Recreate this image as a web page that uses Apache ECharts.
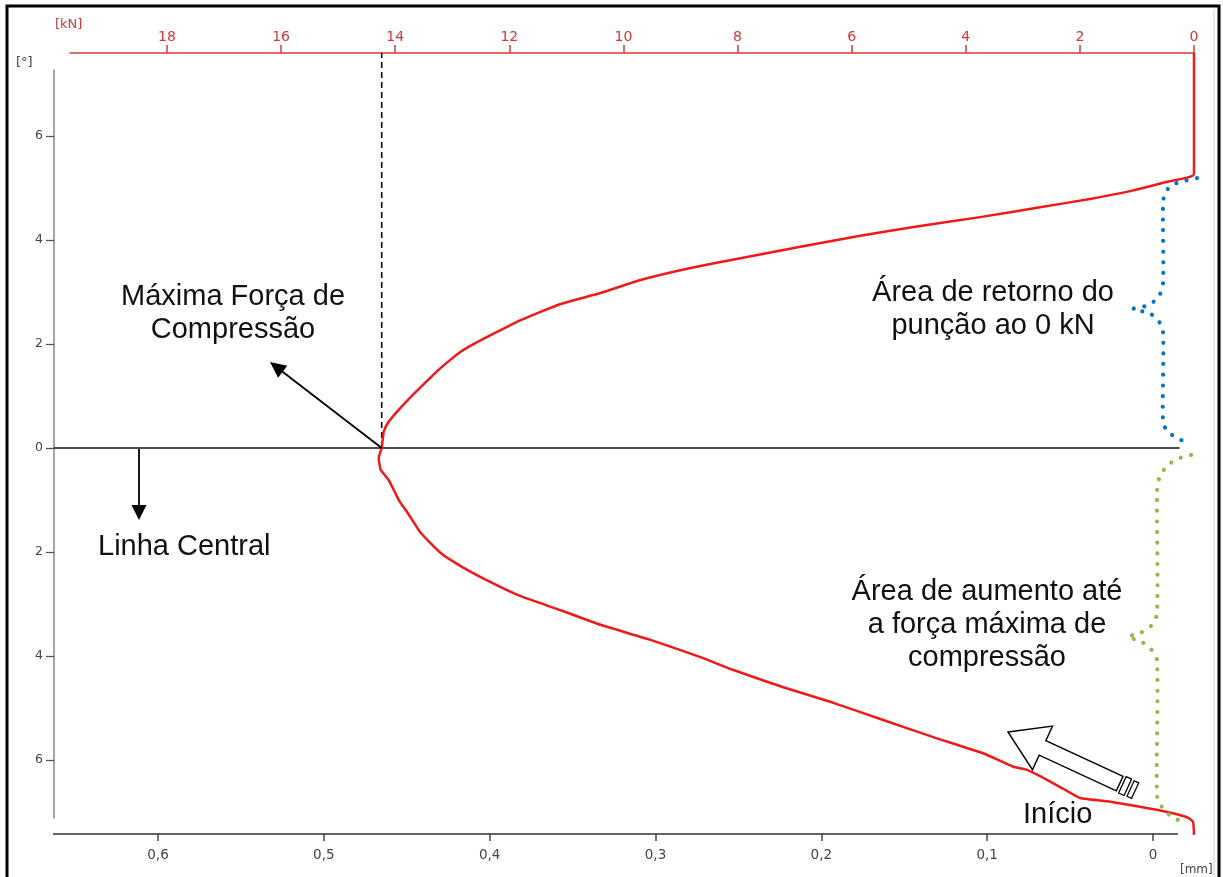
<!DOCTYPE html>
<html>
<head>
<meta charset="utf-8">
<script src="https://cdn.jsdelivr.net/npm/echarts@6/dist/echarts.min.js"></script>
<style>
  html, body { margin: 0; padding: 0; background: #fff; }
  #chart { width: 1223px; height: 877px; }
</style>
</head>
<body>
<div id="chart"></div>
<script>
// Punch displacement [mm] (bottom axis) against tilt angle [°] (left axis),
// from the start of loading (bottom right) through the maximum compression
// force and back to 0 kN (top right).
const curveMm = [-0.0247, -0.0241, -0.0205, -0.0084, 0.0078, 0.0241, 0.0440, 0.0500, 0.0560, 0.0639,
  0.0759, 0.0843, 0.1024, 0.1325, 0.1627, 0.1928, 0.2229, 0.2530, 0.2729, 0.3030,
  0.3331, 0.3572, 0.3813, 0.3994, 0.4175, 0.4295, 0.4416, 0.4494, 0.4548, 0.4608,
  0.4657, 0.4669, 0.4651, 0.4639, 0.4614, 0.4566, 0.4494, 0.4416, 0.4355, 0.4295,
  0.4235, 0.4175, 0.4084, 0.3994, 0.3813, 0.3572, 0.3331, 0.3090, 0.2789, 0.2488,
  0.2127, 0.1765, 0.1404, 0.1042, 0.0681, 0.0380, 0.0139, -0.0084, -0.0247, -0.0247];
const curveDeg = [-7.44, -7.19, -7.10, -7.00, -6.90, -6.81, -6.73, -6.63, -6.52, -6.38,
  -6.19, -6.13, -5.87, -5.56, -5.23, -4.90, -4.60, -4.27, -4.02, -3.69,
  -3.40, -3.12, -2.85, -2.58, -2.27, -2.02, -1.63, -1.25, -1.00, -0.62,
  -0.42, -0.19, 0, 0.31, 0.48, 0.67, 0.92, 1.17, 1.36, 1.54,
  1.70, 1.85, 2.02, 2.17, 2.46, 2.77, 2.98, 3.23, 3.46, 3.65,
  3.87, 4.08, 4.27, 4.44, 4.63, 4.79, 4.94, 5.12, 5.27, 7.60];

// Axis ranges and tick values
const mmRange = [-0.0256, 0.6627];
const mmAxisEnd = -0.015;
const degRange = [-7.115, 7.269];
const knRange = [0, 19.7];
const mmTicks = [0, 0.1, 0.2, 0.3, 0.4, 0.5, 0.6];
const degTicks = [-6, -4, -2, 0, 2, 4, 6];
const knTicks = [0, 2, 4, 6, 8, 10, 12, 14, 16, 18];

// Maximum compression force position and the central (0°) line
const maxForceMm = 0.4651;
const maxForceTopDeg = 7.60;
const centralLineMm = [0.6627, -0.016];

const chart = echarts.init(document.getElementById('chart'), null, { renderer: 'canvas' });

const fmtMm = v => (v === 0 ? '0' : v.toFixed(1).replace('.', ','));
const textFont = '"Liberation Sans", Arial, sans-serif';
const axisFont = '"DejaVu Sans", Verdana, sans-serif';

const curve = curveMm.map((x, i) => [x, curveDeg[i]]);

const GRID_LEFT = 54, GRID_TOP = 70, GRID_H = 748;
const PX_PER_MM = 1658.4;
const gridW = (mmRange[1] - mmRange[0]) * PX_PER_MM;

const option = {
  animation: false,
  backgroundColor: '#ffffff',
  grid: [
    { left: GRID_LEFT, top: GRID_TOP, width: gridW, height: GRID_H },
    { left: 70, top: 53, width: 1124, height: 100 }
  ],
  xAxis: [
    {
      type: 'value', gridIndex: 0, position: 'bottom', inverse: true,
      min: mmRange[0], max: mmRange[1], offset: 16,
      axisLine: { show: false, onZero: false },
      axisTick: { show: true, customValues: mmTicks, length: 7, lineStyle: { color: '#444', width: 1.5 } },
      axisLabel: { customValues: mmTicks, formatter: fmtMm, color: '#444', fontSize: 13.5, fontFamily: axisFont, margin: 14 },
      splitLine: { show: false }
    },
    {
      type: 'value', gridIndex: 1, position: 'top', inverse: true,
      min: knRange[0], max: knRange[1],
      axisLine: { show: true, onZero: false, lineStyle: { color: '#d83a3a', width: 1.5 } },
      axisTick: { show: true, customValues: knTicks, length: 8, lineStyle: { color: '#d83a3a', width: 1.5 } },
      axisLabel: { customValues: knTicks, color: '#d4373a', fontSize: 14, fontFamily: axisFont, margin: 9 },
      splitLine: { show: false }
    }
  ],
  yAxis: [
    {
      type: 'value', gridIndex: 0, min: degRange[0], max: degRange[1],
      axisLine: { show: true, onZero: false, lineStyle: { color: '#888', width: 1.5 } },
      axisTick: { show: true, customValues: degTicks, length: 8, lineStyle: { color: '#555', width: 1.3 } },
      axisLabel: { customValues: degTicks, formatter: v => String(Math.abs(v)), color: '#444', fontSize: 12.5, fontFamily: axisFont, margin: 11 },
      splitLine: { show: false }
    },
    { type: 'value', gridIndex: 1, show: false, min: 0, max: 1 }
  ],
  series: [
    {
      name: 'Linha Central', type: 'line', xAxisIndex: 0, yAxisIndex: 0,
      data: centralLineMm.map(x => [x, 0]), showSymbol: false, silent: true, clip: false,
      lineStyle: { color: '#111', width: 1.6 }
    },
    {
      name: 'Máxima Força de Compressão', type: 'line', xAxisIndex: 0, yAxisIndex: 0,
      data: [[maxForceMm, 0], [maxForceMm, maxForceTopDeg]], showSymbol: false, silent: true, clip: false,
      lineStyle: { color: '#111', width: 1.6, type: [6, 4] }
    },
    {
      name: 'Curva', type: 'line', xAxisIndex: 0, yAxisIndex: 0,
      data: curve, showSymbol: false, clip: false, z: 5, smooth: 0.15,
      lineStyle: { color: '#ee1a1a', width: 2.5, join: 'round' }
    }
  ]
};

chart.setOption(option);

// ---- annotations ----
const maxPt = chart.convertToPixel({ xAxisIndex: 0, yAxisIndex: 0 }, [maxForceMm, 0]);
const axisY = GRID_TOP + GRID_H + 16;
const axisL = chart.convertToPixel({ xAxisIndex: 0, yAxisIndex: 0 }, [mmRange[1], 0])[0] - 1;
const axisR = chart.convertToPixel({ xAxisIndex: 0, yAxisIndex: 0 }, [mmAxisEnd, 0])[0];

function arrowHead(tip, from, len, half) {
  const dx = tip[0] - from[0], dy = tip[1] - from[1];
  const d = Math.hypot(dx, dy), ux = dx / d, uy = dy / d;
  const bx = tip[0] - ux * len, by = tip[1] - uy * len;
  return [tip, [bx - uy * half, by + ux * half], [bx + uy * half, by - ux * half]];
}

// Hollow block arrow near "Início"
const T = [1008, 732], U = [0.908, 0.419], V = [-0.419, 0.908];
const P = (a, b) => [T[0] + a * U[0] + b * V[0], T[1] + a * U[1] + b * V[1]];
const blockArrow = [P(0, 0), P(38, -24), P(38, -8), P(123, -8), P(123, 8), P(38, 8), P(38, 24)];
const tail1 = [P(126, -9), P(132, -9), P(132, 9), P(126, 9)];
const tail2 = [P(135, -8.5), P(140, -8.5), P(140, 8.5), P(135, 8.5)];

const arrow1Tip = [270, 362];
const arrow2From = [139, 449], arrow2Tip = [139, 520];

const blueBrace = [[1197, 178], [1184, 181], [1172, 185], [1165, 193], [1163, 205], [1163, 284], [1159, 296],
  [1149, 305], [1133, 309], [1149, 313], [1158, 320], [1163, 332], [1163, 421], [1167, 431], [1177, 438], [1188, 443]];
const greenBrace = [[1191, 455], [1177, 459], [1166, 467], [1159, 479], [1157, 492], [1157, 614], [1151, 626],
  [1140, 633], [1128, 637], [1140, 641], [1150, 648], [1157, 660], [1157, 795], [1162, 807], [1172, 817], [1186, 823]];

const dotStyle = c => ({ stroke: c, fill: null, lineWidth: 4.2, lineDash: [0.01, 10.6], lineCap: 'round' });
const txt = (x, y, s, align) => ({
  type: 'text', x: x, y: y, silent: true, z: 20,
  style: { text: s, fill: '#111', font: '29px ' + textFont, align: align || 'center', verticalAlign: 'middle', lineHeight: 33 }
});

chart.setOption({
  graphic: [
    // outer frame
    { type: 'rect', silent: true, z: 30, shape: { x: 7, y: 6, width: 1212, height: 890 },
      style: { fill: null, stroke: '#000', lineWidth: 3 } },
    { type: 'line', silent: true, shape: { x1: 1214, y1: 9, x2: 1214, y2: 877 },
      style: { stroke: '#d0d0d0', lineWidth: 1 } },
    // bottom axis line
    { type: 'line', silent: true, z: 3, shape: { x1: axisL, y1: axisY, x2: axisR, y2: axisY },
      style: { stroke: '#333', lineWidth: 1.5 } },
    // unit labels
    { type: 'text', x: 55, y: 25, silent: true,
      style: { text: '[kN]', fill: '#d4373a', font: '13px ' + axisFont, verticalAlign: 'middle' } },
    { type: 'text', x: 16, y: 63, silent: true,
      style: { text: '[°]', fill: '#444', font: '13px ' + axisFont, verticalAlign: 'middle' } },
    { type: 'text', x: 1180, y: 870, silent: true,
      style: { text: '[mm]', fill: '#444', font: '12px ' + axisFont, verticalAlign: 'middle' } },
    // arrow to the maximum force point
    { type: 'line', silent: true, z: 20, shape: { x1: maxPt[0], y1: maxPt[1], x2: arrow1Tip[0] + 8, y2: arrow1Tip[1] + 6.2 },
      style: { stroke: '#000', lineWidth: 1.8 } },
    { type: 'polygon', silent: true, z: 20, shape: { points: arrowHead(arrow1Tip, maxPt, 16, 7.5) },
      style: { fill: '#000' } },
    // arrow to "Linha Central"
    { type: 'line', silent: true, z: 20, shape: { x1: arrow2From[0], y1: arrow2From[1], x2: arrow2Tip[0], y2: arrow2Tip[1] - 10 },
      style: { stroke: '#000', lineWidth: 1.8 } },
    { type: 'polygon', silent: true, z: 20, shape: { points: arrowHead(arrow2Tip, arrow2From, 15, 7.5) },
      style: { fill: '#000' } },
    // hollow arrow
    { type: 'polygon', silent: true, z: 20, shape: { points: blockArrow }, style: { fill: '#fff', stroke: '#000', lineWidth: 1.4 } },
    { type: 'polygon', silent: true, z: 20, shape: { points: tail1 }, style: { fill: '#fff', stroke: '#000', lineWidth: 1.3 } },
    { type: 'polygon', silent: true, z: 20, shape: { points: tail2 }, style: { fill: '#fff', stroke: '#000', lineWidth: 1.3 } },
    // dotted braces
    { type: 'polyline', silent: true, z: 15, shape: { points: blueBrace, smooth: 0.25 }, style: dotStyle('#0a72c4') },
    { type: 'polyline', silent: true, z: 15, shape: { points: greenBrace, smooth: 0.25 }, style: dotStyle('#93b94c') },
    // texts
    txt(233, 313, 'Máxima Força de\nCompressão'),
    txt(98, 547, 'Linha Central', 'left'),
    txt(993, 309, 'Área de retorno do\npunção ao 0 kN'),
    txt(987, 625, 'Área de aumento até\na força máxima de\ncompressão'),
    txt(1023, 815, 'Início', 'left')
  ]
});
</script>
</body>
</html>
